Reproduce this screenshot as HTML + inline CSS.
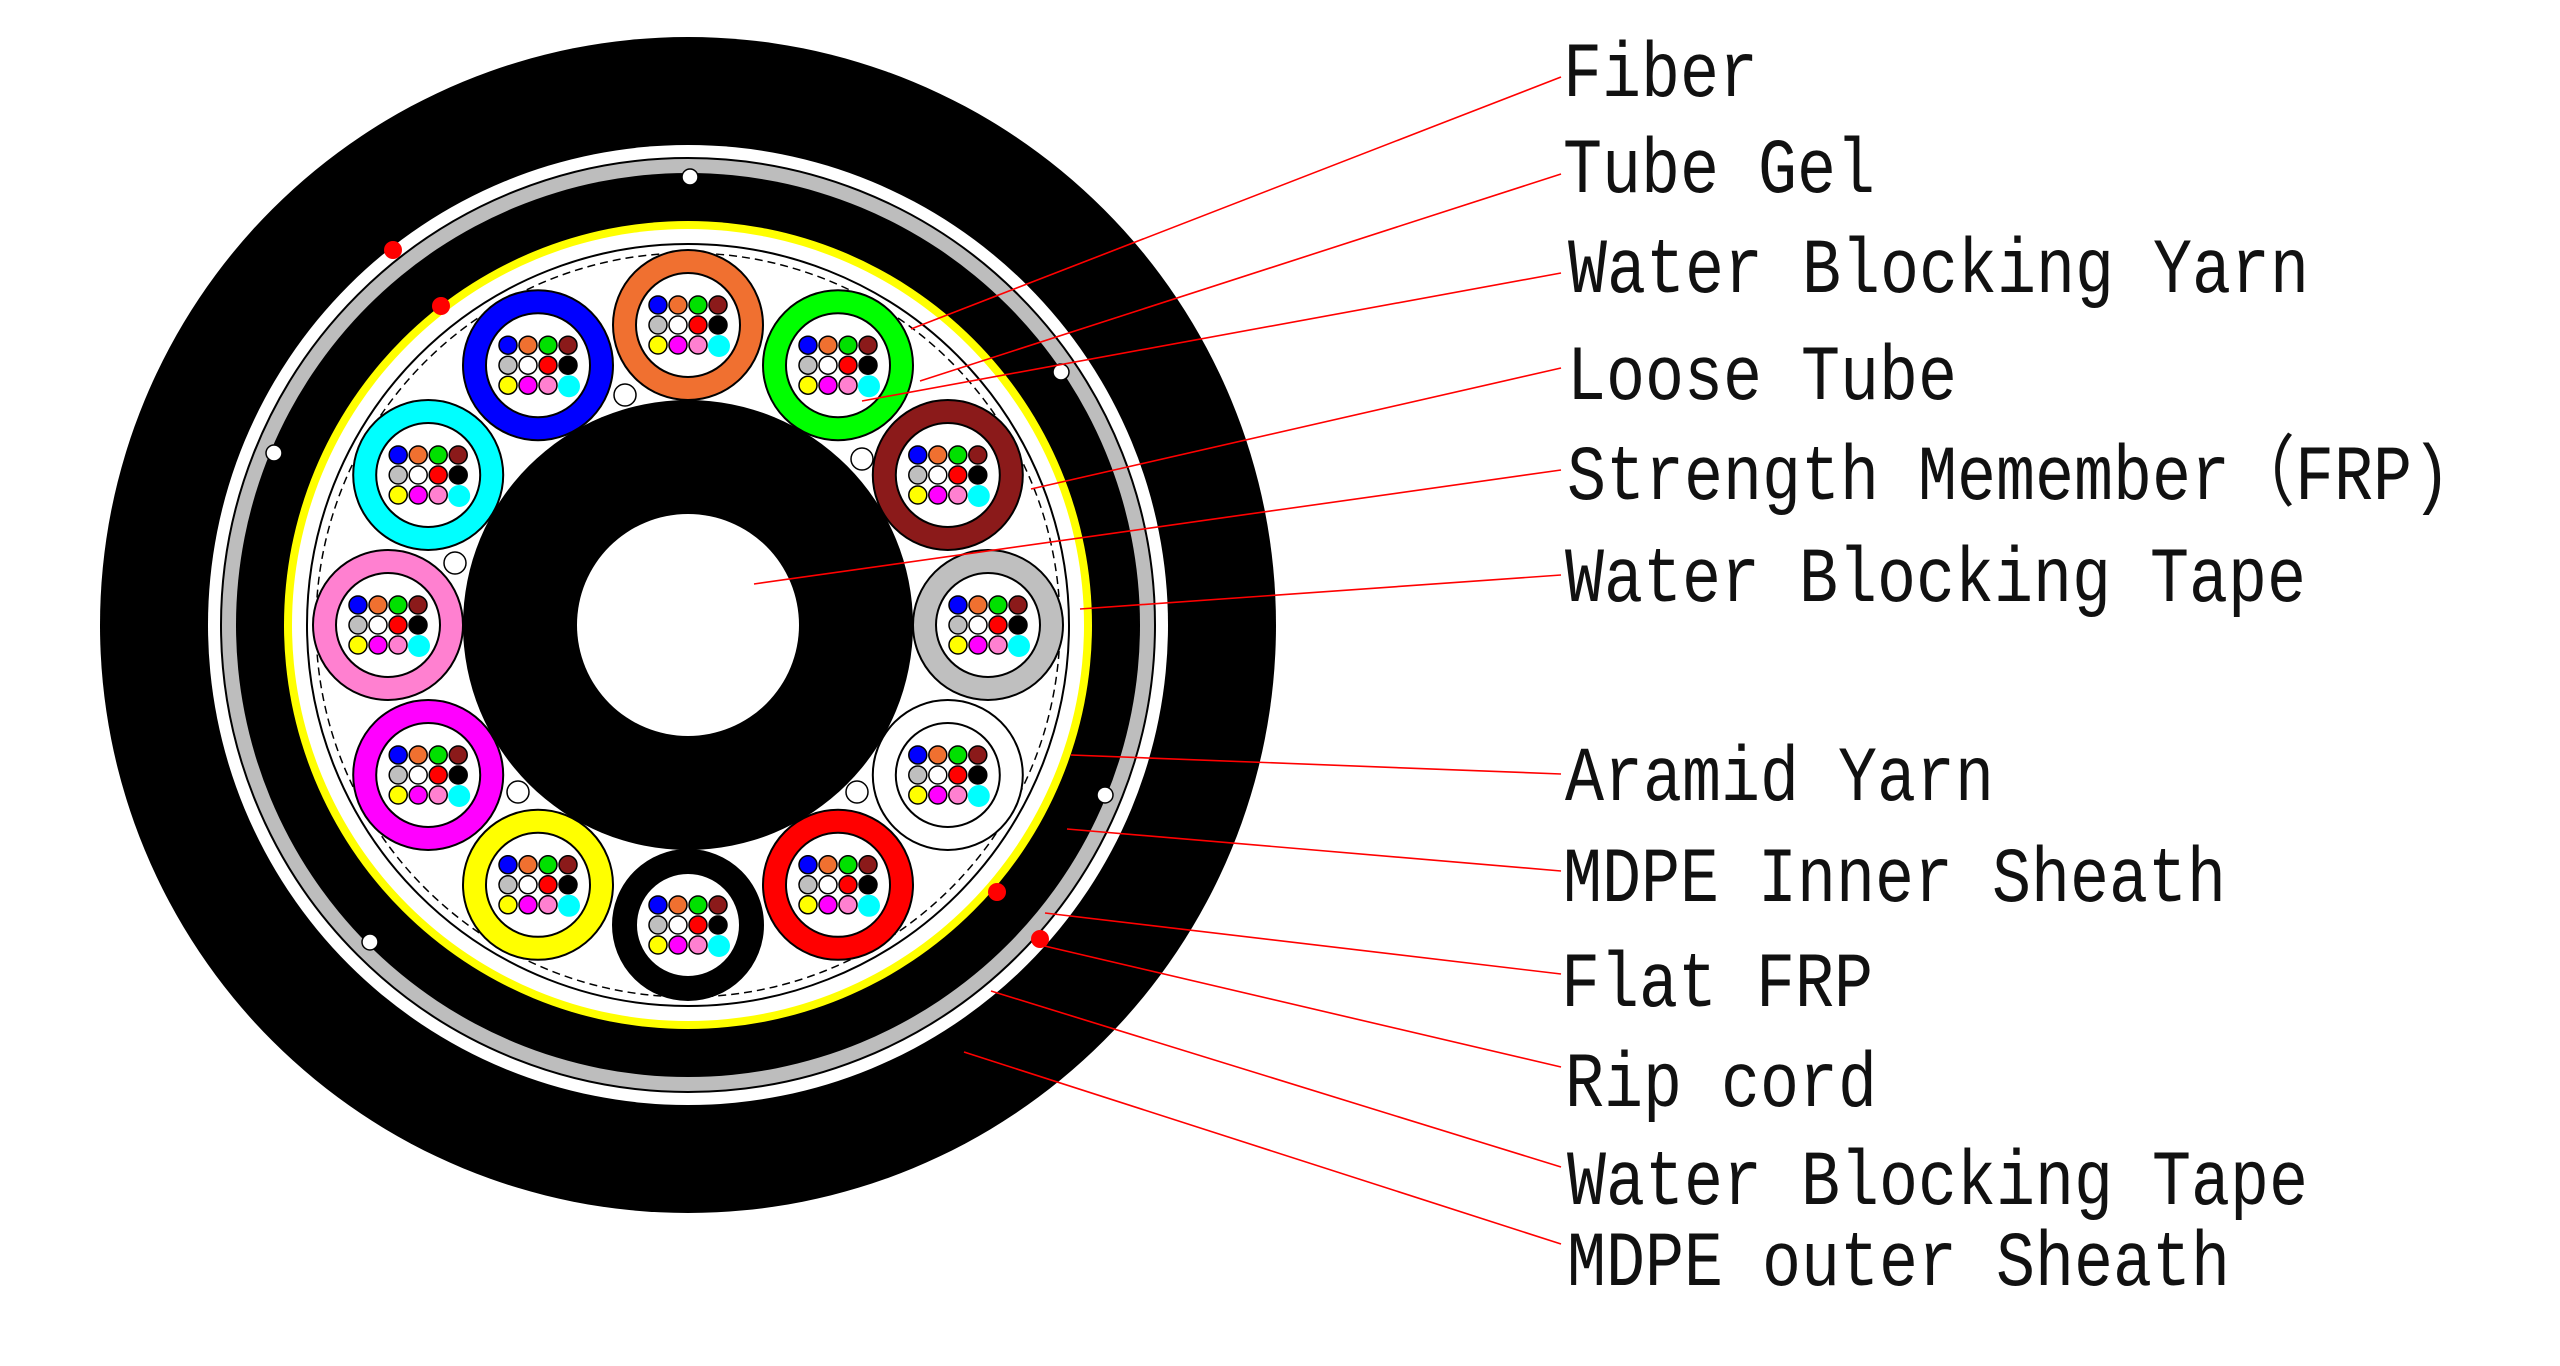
<!DOCTYPE html>
<html><head><meta charset="utf-8"><style>
html,body{margin:0;padding:0;background:#fff;}
svg{display:block;}
text{font-family:"Liberation Mono","Noto Sans CJK SC",monospace;font-size:65px;fill:#111;}
</style></head><body>
<svg width="2560" height="1366" viewBox="0 0 2560 1366" xmlns="http://www.w3.org/2000/svg">
<defs>
<g id="fib" stroke="#000" stroke-width="1.5">
<circle cx="-30" cy="-20" r="9" fill="#0000ff"/>
<circle cx="-10" cy="-20" r="9" fill="#f07030"/>
<circle cx="10" cy="-20" r="9" fill="#00e000"/>
<circle cx="30" cy="-20" r="9" fill="#8b1a1a"/>
<circle cx="-30" cy="0" r="9" fill="#bfbfbf"/>
<circle cx="-10" cy="0" r="9" fill="#fff"/>
<circle cx="10" cy="0" r="9" fill="#ff0000"/>
<circle cx="30" cy="0" r="9" fill="#000"/>
<circle cx="-30" cy="20" r="9" fill="#ffff00"/>
<circle cx="-10" cy="20" r="9" fill="#ff00ff"/>
<circle cx="10" cy="20" r="9" fill="#ff80d0"/>
<circle cx="31" cy="21" r="11" fill="#00ffff" stroke="none"/>
</g>
</defs>
<g transform="translate(688,625)">
<circle r="588" fill="#000"/>
<circle r="480" fill="#fff"/>
<circle r="467" fill="#bdbdbd" stroke="#000" stroke-width="2"/>
<circle r="452" fill="#000"/>
<circle r="404" fill="#ffff00"/>
<circle r="396" fill="#fff"/>
<circle r="381" fill="none" stroke="#000" stroke-width="2"/>
<circle r="372" fill="none" stroke="#000" stroke-width="1.5" stroke-dasharray="8 5"/>
<circle r="225" fill="#000"/>
<circle r="111" fill="#fff"/>
<g stroke="#000" stroke-width="2">
<circle cx="0" cy="-300" r="75" fill="#f07030"/><circle cx="0" cy="-300" r="52" fill="#fff"/>
<circle cx="150" cy="-259.8" r="75" fill="#00ff00"/><circle cx="150" cy="-259.8" r="52" fill="#fff"/>
<circle cx="259.8" cy="-150" r="75" fill="#8b1a1a"/><circle cx="259.8" cy="-150" r="52" fill="#fff"/>
<circle cx="300" cy="0" r="75" fill="#bfbfbf"/><circle cx="300" cy="0" r="52" fill="#fff"/>
<circle cx="259.8" cy="150" r="75" fill="#fff"/><circle cx="259.8" cy="150" r="52" fill="#fff"/>
<circle cx="150" cy="259.8" r="75" fill="#ff0000"/><circle cx="150" cy="259.8" r="52" fill="#fff"/>
<circle cx="0" cy="300" r="75" fill="#000"/><circle cx="0" cy="300" r="52" fill="#fff"/>
<circle cx="-150" cy="259.8" r="75" fill="#ffff00"/><circle cx="-150" cy="259.8" r="52" fill="#fff"/>
<circle cx="-259.8" cy="150" r="75" fill="#ff00ff"/><circle cx="-259.8" cy="150" r="52" fill="#fff"/>
<circle cx="-300" cy="0" r="75" fill="#ff80d0"/><circle cx="-300" cy="0" r="52" fill="#fff"/>
<circle cx="-259.8" cy="-150" r="75" fill="#00ffff"/><circle cx="-259.8" cy="-150" r="52" fill="#fff"/>
<circle cx="-150" cy="-259.8" r="75" fill="#0000ff"/><circle cx="-150" cy="-259.8" r="52" fill="#fff"/>
</g>
<use href="#fib" x="0" y="-300"/><use href="#fib" x="150" y="-259.8"/><use href="#fib" x="259.8" y="-150"/>
<use href="#fib" x="300" y="0"/><use href="#fib" x="259.8" y="150"/><use href="#fib" x="150" y="259.8"/>
<use href="#fib" x="0" y="300"/><use href="#fib" x="-150" y="259.8"/><use href="#fib" x="-259.8" y="150"/>
<use href="#fib" x="-300" y="0"/><use href="#fib" x="-259.8" y="-150"/><use href="#fib" x="-150" y="-259.8"/>
</g>
<g fill="#fff" stroke="#000" stroke-width="1.5">
<circle cx="625" cy="395" r="11"/><circle cx="862" cy="459" r="11"/><circle cx="455" cy="563" r="11"/>
<circle cx="518" cy="792" r="11"/><circle cx="857" cy="792" r="11"/>
<circle cx="690" cy="177" r="8"/><circle cx="274" cy="453" r="8"/><circle cx="1061" cy="372" r="8"/>
<circle cx="1105" cy="795" r="8"/><circle cx="370" cy="942" r="8"/>
</g>
<g fill="#ff0000">
<circle cx="393" cy="250" r="9"/><circle cx="441" cy="306" r="9"/>
<circle cx="997" cy="892" r="9"/><circle cx="1040" cy="939" r="9"/>
</g>
<g stroke="#ff0000" stroke-width="1.6" fill="none">
<line x1="911" y1="329" x2="1561" y2="77"/>
<line x1="920" y1="381" x2="1561" y2="174"/>
<line x1="862" y1="401" x2="1561" y2="273"/>
<line x1="1031" y1="489" x2="1561" y2="368"/>
<line x1="754" y1="584" x2="1561" y2="470"/>
<line x1="1080" y1="609" x2="1561" y2="575"/>
<line x1="1071" y1="755" x2="1561" y2="774"/>
<line x1="1067" y1="829" x2="1561" y2="871"/>
<line x1="1045" y1="913" x2="1561" y2="974"/>
<line x1="1036" y1="944" x2="1561" y2="1067"/>
<line x1="991" y1="991" x2="1561" y2="1167"/>
<line x1="964" y1="1052" x2="1561" y2="1244"/>
</g>
<g>
<text transform="translate(1563,96) scale(1,1.2)">Fiber</text>
<text transform="translate(1563,192) scale(1,1.2)">Tube Gel</text>
<text transform="translate(1568,292) scale(1,1.2)">Water Blocking Yarn</text>
<text transform="translate(1567,399) scale(1,1.2)">Loose Tube</text>
<text transform="translate(1567,499) scale(1,1.2)">Strength Memember（FRP)</text>
<text transform="translate(1565,601) scale(1,1.2)">Water Blocking Tape</text>
<text transform="translate(1565,800) scale(1,1.2)">Aramid Yarn</text>
<text transform="translate(1563,901) scale(1,1.2)">MDPE Inner Sheath</text>
<text transform="translate(1561,1006) scale(1,1.2)">Flat FRP</text>
<text transform="translate(1565,1106) scale(1,1.2)">Rip cord</text>
<text transform="translate(1567,1204) scale(1,1.2)">Water Blocking Tape</text>
<text transform="translate(1567,1285) scale(1,1.2)">MDPE outer Sheath</text>
</g>
</svg>
</body></html>
